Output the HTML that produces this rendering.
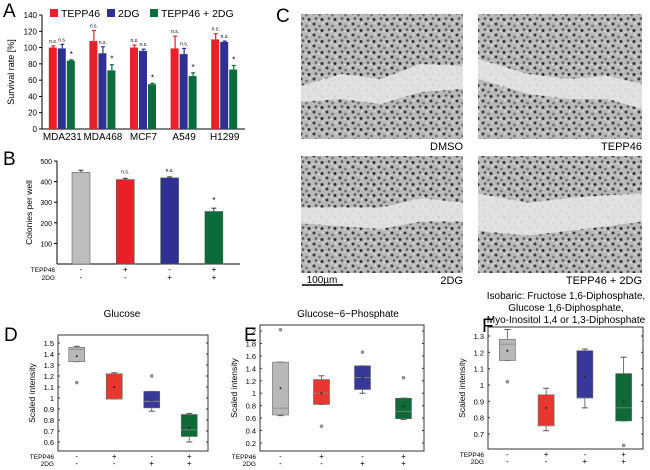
<!DOCTYPE html>
<html><head><meta charset="utf-8"><style>
body{margin:0;background:#fff;width:650px;height:470px;overflow:hidden}
svg{display:block;font-family:"Liberation Sans",sans-serif}
</style></head><body>
<svg id="fig" width="650" height="470" viewBox="0 0 650 470">
<defs>
<pattern id="cells" width="13" height="11" patternUnits="userSpaceOnUse">
<rect width="13" height="11" fill="#b9b9b9"/>
<circle cx="2" cy="2" r="1.5" fill="#3a3a3a"/>
<circle cx="7.5" cy="4" r="1.4" fill="#777"/>
<circle cx="11" cy="1.5" r="1" fill="#e0e0e0"/>
<circle cx="4" cy="7.5" r="1.3" fill="#555"/>
<circle cx="10" cy="8.5" r="1.5" fill="#2e2e2e"/>
<circle cx="1" cy="10" r="0.8" fill="#dcdcdc"/>
<circle cx="7" cy="9.5" r="0.9" fill="#e5e5e5"/>
</pattern>
</defs>
</svg>
<script>
const NS='http://www.w3.org/2000/svg';
const svg=document.getElementById('fig');
function el(tag,attrs,parent,txt){const e=document.createElementNS(NS,tag);for(const k in attrs)e.setAttribute(k,attrs[k]);if(txt!==undefined)e.textContent=txt;(parent||svg).appendChild(e);return e;}

// ---------- Panel A data ----------
const aCategories=['MDA231','MDA468','MCF7','A549','H1299'];
const aTepp=[100,108,100,99,110];
const aTeppErr=[2,13,3,15,7];
const a2dg=[99,93,96,92,107];
const a2dgErr=[5,8,2,7,1];
const aCombo=[84,72,55,65,73];
const aComboErr=[1,7,1,4,5];
const aTicks=[0,20,40,60,80,100,120,140];
// ---------- Panel B data ----------
const bValues=[445,410,418,255];
const bErr=[10,6,5,16];
const bTicks=[100,200,300,400,500];
const bStars=['','n.s.','n.s.','*'];
// ---------- Panel D data ----------
const dTicks=[0.6,0.7,0.8,0.9,1,1.1,1.2,1.3,1.4,1.5];
const dBoxes=[[1.33,1.33,1.44,1.46,1.47,1.38],[0.99,0.99,0.99,1.22,1.23,1.1],[0.88,0.91,0.97,1.06,1.06,0.98],[0.6,0.65,0.71,0.85,0.86,0.73]];
const dOut=[[1.14],[],[1.2],[]];
// ---------- Panel E data ----------
const eTicks=[0.2,0.4,0.6,0.8,1,1.2,1.4,1.6,1.8,2];
const eBoxes=[[0.64,0.65,0.76,1.5,1.5,1.08],[0.82,0.82,1.0,1.22,1.28,1.0],[1.0,1.06,1.25,1.44,1.44,1.25],[0.58,0.59,0.71,0.92,0.92,0.79]];
const eOut=[[2.02],[0.47],[1.66],[1.25]];
// ---------- Panel F data ----------
const fTicks=[0.7,0.8,0.9,1,1.1,1.2,1.3];
const fBoxes=[[1.15,1.15,1.25,1.28,1.34,1.21],[0.72,0.75,0.75,0.94,0.98,0.86],[0.86,0.92,0.92,1.21,1.22,1.05],[0.78,0.78,0.86,1.07,1.17,0.9]];
const fOut=[[1.02],[],[],[0.63]];

const teppSigns=['-','+','-','+'];
const dgSigns=['-','-','+','+'];
const RED='#e8202a',BLUE='#2e3192',GREEN='#0b6b3a',GRAY='#bdbdbd';
const boxCols=['#b8b8b8','#e8372f','#38389a','#0f6a38'];

function panelLetter(t,x,y,name){const e=el('text',{x:x,y:y,'font-size':19,fill:'#000'},svg,t);}

// ========== Panel A ==========
panelLetter('A',3,17,'panel-a-label');
(function(){
 const g=el('g',{});
 const y0=129,yTop=15,max=140,x0=42,x1=245;
 const ys=v=>y0-(v/max)*(y0-yTop);
 el('line',{x1:x0,y1:yTop,x2:x0,y2:y0,stroke:'#000','stroke-width':1},g);
 el('line',{x1:x0,y1:y0,x2:x1,y2:y0,stroke:'#000','stroke-width':1},g);
 aTicks.forEach(t=>{el('line',{x1:x0-3,y1:ys(t),x2:x0,y2:ys(t),stroke:'#000'},g);
  const tx=el('text',{x:x0-5,y:ys(t)+3,'font-size':8,'text-anchor':'end'},g,t);});
 const yt=el('text',{x:0,y:0,'font-size':9,'text-anchor':'middle',transform:`translate(14,${(y0+yTop)/2}) rotate(-90)`},g,'Survival rate [%]');
 
 const gw=(x1-x0)/aCategories.length,bw=9;
 const series=[[aTepp,aTeppErr,RED,'n.s.'],[a2dg,a2dgErr,BLUE,'n.s.'],[aCombo,aComboErr,GREEN,'*']];
 aCategories.forEach((c,i)=>{
  const cx=x0+gw*(i+0.5);
  series.forEach((s,j)=>{
   const bx=cx+(j-1.5)*bw,v=s[0][i],er=s[1][i];
   el('line',{x1:bx+bw/2,y1:ys(v),x2:bx+bw/2,y2:ys(v+er),stroke:s[2],'stroke-width':1.2},g);
   el('line',{x1:bx+bw/2-2,y1:ys(v+er),x2:bx+bw/2+2,y2:ys(v+er),stroke:s[2],'stroke-width':1.2},g);
   const r=el('rect',{x:bx,y:ys(v),width:bw-1,height:y0-ys(v),fill:s[2]},g);
   
   const st=el('text',{x:bx+bw/2,y:ys(v+er)-3,'font-size':s[3]=='*'?8:5,'text-anchor':'middle'},g,s[3]);
   
  });
  const lb=el('text',{x:cx,y:y0+11,'font-size':10,'text-anchor':'middle'},g,c);
  
 });
 [['TEPP46',RED,50],['2DG',BLUE,107],['TEPP46 + 2DG',GREEN,150]].forEach(L=>{
  const lg=el('g',{},g);
  el('rect',{x:L[2],y:9,width:8,height:8,fill:L[1]},lg);
  el('text',{x:L[2]+11,y:17,'font-size':10.5},lg,L[0]);
 });
})();

// ========== Panel B ==========
panelLetter('B',3,165,'panel-b-label');
(function(){
 const g=el('g',{});
 const y0=264,yTop=161,max=500,x0=57,x1=240;
 const ys=v=>y0-(v/max)*(y0-yTop);
 el('line',{x1:x0,y1:yTop,x2:x0,y2:y0,stroke:'#000'},g);
 el('line',{x1:x0,y1:y0,x2:x1,y2:y0,stroke:'#000'},g);
 bTicks.forEach(t=>{el('line',{x1:x0-3,y1:ys(t),x2:x0,y2:ys(t),stroke:'#000'},g);
  const tx=el('text',{x:x0-5,y:ys(t)+3,'font-size':7,'text-anchor':'end'},g,t);});
 const yt=el('text',{x:0,y:0,'font-size':8.5,'text-anchor':'middle',transform:`translate(32,${(y0+yTop)/2}) rotate(-90)`},g,'Colonies per well');
 
 const cols=[GRAY,RED,BLUE,GREEN],step=44.3,bw=18;
 bValues.forEach((v,i)=>{
  const cx=81+step*i;
  el('line',{x1:cx,y1:ys(v),x2:cx,y2:ys(v+bErr[i]),stroke:'#333'},g);
  el('line',{x1:cx-2.5,y1:ys(v+bErr[i]),x2:cx+2.5,y2:ys(v+bErr[i]),stroke:'#333'},g);
  const r=el('rect',{x:cx-bw/2,y:ys(v),width:bw,height:y0-ys(v),fill:cols[i],stroke:'#555','stroke-width':0.5},g);
  
  if(bStars[i]){const s=el('text',{x:cx,y:ys(v+bErr[i])-5,'font-size':bStars[i]=='*'?8:5,'text-anchor':'middle'},g,bStars[i]);}
  el('text',{x:cx,y:272,'font-size':8,'text-anchor':'middle'},g,teppSigns[i]);
  el('text',{x:cx,y:280,'font-size':8,'text-anchor':'middle'},g,dgSigns[i]);
 });
 el('text',{x:55,y:272,'font-size':6.5,'text-anchor':'end'},g,'TEPP46');
 el('text',{x:55,y:280,'font-size':6.5,'text-anchor':'end'},g,'2DG');
})();

// ========== Panel C ==========
panelLetter('C',276,22,'panel-c-label');
(function(){
 const imgs=[[301,14,162,125,'DMSO',[[0,72],[40,60],[80,65],[120,50],[162,52],[162,75],[120,78],[80,90],[40,85],[0,88]]],
  [478,14,164,125,'TEPP46',[[0,45],[50,60],[90,65],[130,62],[164,70],[164,95],[130,85],[90,85],[50,80],[0,65]]],
  [301,156,162,117,'2DG',[[0,55],[40,55],[80,55],[120,45],[162,50],[162,70],[120,70],[80,78],[40,75],[0,72]]],
  [478,156,164,117,'TEPP46 + 2DG',[[0,40],[50,50],[90,45],[130,42],[164,40],[164,70],[130,75],[90,80],[50,85],[0,80]]]];
 imgs.forEach(m=>{
  const g=el('g',{});
  el('rect',{x:m[0],y:m[1],width:m[2],height:m[3],fill:'url(#cells)'},g);
  el('polygon',{points:m[5].map(p=>(m[0]+p[0])+','+(m[1]+p[1]*m[3]/125)).join(' '),fill:'#e4e4e4',opacity:0.92},g);
  const t=el('text',{x:m[0]+m[2],y:m[1]+m[3]+11,'font-size':11,'text-anchor':'end'},svg,m[4]);
  
 });
 const sb=el('g',{});
 el('line',{x1:302,y1:285,x2:343,y2:285,stroke:'#000','stroke-width':1.5},sb);
 el('text',{x:322,y:283,'font-size':10,'text-anchor':'middle'},sb,'100\u00b5m');
})();

// ========== Box plot panels ==========
function boxPanel(o){
 const g=el('g',{});
 const ys=v=>o.yA+(v-o.vA)*(o.yB-o.yA)/(o.vB-o.vA);
 el('rect',{x:o.x0,y:o.y0,width:o.x1-o.x0,height:o.y1-o.y0,fill:'none',stroke:'#333','stroke-width':1},g);
 o.ticks.forEach(t=>{el('line',{x1:o.x0,y1:ys(t),x2:o.x0+2,y2:ys(t),stroke:'#333'},g);el('line',{x1:o.x1-2,y1:ys(t),x2:o.x1,y2:ys(t),stroke:'#333'},g);
  const tx=el('text',{x:o.x0-4,y:ys(t)+3,'font-size':7.5,'text-anchor':'end'},g,t);});
 const yt=el('text',{x:0,y:0,'font-size':8.5,'text-anchor':'middle',transform:`translate(${o.x0-23},${(o.y0+o.y1)/2}) rotate(-90)`},g,'Scaled intensity');
 
 const n=o.boxes.length,step=(o.x1-o.x0)/n,bw=16;
 o.boxes.forEach((b,i)=>{
  const cx=o.x0+step*(i+0.5);
  const bg=el('g',{},g);
  el('line',{x1:cx,y1:ys(b[0]),x2:cx,y2:ys(b[4]),stroke:'#555','stroke-width':0.8},bg);
  el('line',{x1:cx-3,y1:ys(b[0]),x2:cx+3,y2:ys(b[0]),stroke:'#555'},bg);
  el('line',{x1:cx-3,y1:ys(b[4]),x2:cx+3,y2:ys(b[4]),stroke:'#555'},bg);
  el('rect',{x:cx-bw/2,y:ys(b[3]),width:bw,height:Math.max(1,ys(b[1])-ys(b[3])),fill:boxCols[i],stroke:'#666','stroke-width':0.6},bg);
  el('line',{x1:cx-bw/2,y1:ys(b[2]),x2:cx+bw/2,y2:ys(b[2]),stroke:'#888','stroke-width':0.8},bg);
  el('circle',{cx:cx,cy:ys(b[5]),r:1,fill:'#222'},bg);
  o.out[i].forEach(v=>el('circle',{cx:cx,cy:ys(v),r:1.6,fill:'#999',stroke:'#666','stroke-width':0.4},bg));
  el('text',{x:cx,y:o.y1+8,'font-size':8,'text-anchor':'middle'},g,teppSigns[i]);
  el('text',{x:cx,y:o.y1+15,'font-size':8,'text-anchor':'middle'},g,dgSigns[i]);
 });
 el('text',{x:o.x0-4,y:o.y1+8,'font-size':6.5,'text-anchor':'end'},g,'TEPP46');
 el('text',{x:o.x0-4,y:o.y1+15,'font-size':6.5,'text-anchor':'end'},g,'2DG');
 o.title.forEach((t,k)=>{const tt=el('text',{x:o.tx,y:o.ty+k*12,'font-size':10,'text-anchor':'middle'},g,t);});
}
panelLetter('D',4,341,'panel-d-label');
boxPanel({name:'panel-d-glucose',x0:58,x1:208,y0:335,y1:451,vA:1.5,yA:343,vB:0.6,yB:442,ticks:dTicks,boxes:dBoxes,out:dOut,title:['Glucose'],tx:122,ty:317});
panelLetter('E',244,341,'panel-e-label');
boxPanel({name:'panel-e-g6p',x0:260,x1:424,y0:325,y1:451,vA:2,yA:331,vB:0.2,yB:443,ticks:eTicks,boxes:eBoxes,out:eOut,title:['Glucose\u22126\u2212Phosphate'],tx:348,ty:317});
panelLetter('F',482,332,'panel-f-label');
boxPanel({name:'panel-f-isobaric',x0:488,x1:643,y0:327,y1:449,vA:1.3,yA:336,vB:0.7,yB:434,ticks:fTicks,boxes:fBoxes,out:fOut,title:['Isobaric: Fructose 1,6-Diphosphate,','Glucose 1,6-Diphosphate,','Myo-Inositol 1,4 or 1,3-Diphosphate'],tx:566,ty:299});
</script>
</body></html>
